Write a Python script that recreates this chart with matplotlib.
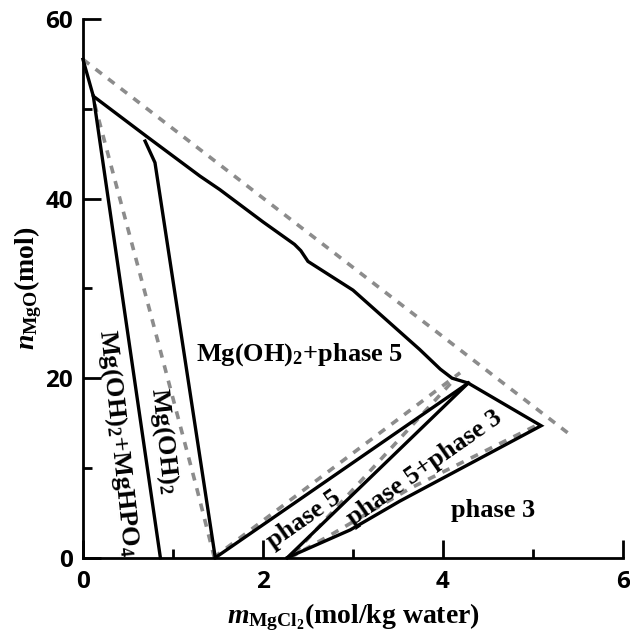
import matplotlib
matplotlib.use("Agg")
import matplotlib.pyplot as plt
from matplotlib.ticker import MultipleLocator

plt.rcParams['mathtext.fontset'] = 'custom'
plt.rcParams['mathtext.rm'] = 'Liberation Serif:bold'
plt.rcParams['mathtext.bf'] = 'Liberation Serif:bold'
plt.rcParams['mathtext.it'] = 'Liberation Serif:bold:italic'

# ---- data ----
# solid model boundaries
upper_x = [0.0, 0.115, 0.71, 1.3, 1.52, 2.0, 2.35, 2.42, 2.5, 3.0, 3.37, 3.74, 3.97, 4.1, 4.28]
upper_y = [55.5, 51.4, 46.9, 42.5, 41.0, 37.4, 34.9, 34.2, 33.0, 29.8, 26.5, 23.2, 21.0, 20.0, 19.45]
left_x = [0.115, 0.86]
left_y = [51.4, 0.0]
mgoh_x = [0.69, 0.80, 1.47]
mgoh_y = [46.4, 44.0, 0.0]
p5_upper_x = [1.47, 4.28]
p5_upper_y = [0.0, 19.45]
p5_lower_x = [2.27, 4.28]
p5_lower_y = [0.0, 19.45]
p3_x = [2.27, 2.97, 3.52, 5.09, 4.28]
p3_y = [0.0, 3.1, 6.3, 14.7, 19.45]

# dashed (grey) boundaries
d_top_x = [0.0, 5.4]
d_top_y = [55.5, 13.8]
d_mgoh_x = [0.13, 0.74, 1.26, 1.46]
d_mgoh_y = [50.5, 27.6, 7.9, 0.0]
d_p5a_x = [1.45, 4.19]
d_p5a_y = [0.0, 20.6]
d_p5b_x = [2.35, 4.12]
d_p5b_y = [0.5, 19.8]
d_p3_x = [2.30, 2.78, 3.63, 5.05]
d_p3_y = [0.0, 2.7, 7.7, 14.8]

x_ticks = [0, 2, 4, 6]
y_ticks = [0, 20, 40, 60]

fig = plt.figure(figsize=(6.3, 6.35), dpi=100)
ax = fig.add_axes([0.1317, 0.1217, 0.8572, 0.8484])

dash_kw = dict(color='#8c8c8c', lw=2.6, linestyle=(0, (2.2, 2.2)), solid_capstyle='butt')
for xs, ys in [(d_top_x, d_top_y), (d_mgoh_x, d_mgoh_y), (d_p5a_x, d_p5a_y),
               (d_p5b_x, d_p5b_y), (d_p3_x, d_p3_y)]:
    ax.plot(xs, ys, clip_on=False, **dash_kw)

solid_kw = dict(color='black', lw=2.4, solid_joinstyle='miter')
for xs, ys in [(upper_x, upper_y), (left_x, left_y), (mgoh_x, mgoh_y),
               (p5_upper_x, p5_upper_y), (p5_lower_x, p5_lower_y), (p3_x, p3_y)]:
    ax.plot(xs, ys, clip_on=False, **solid_kw)

ax.set_xlim(0, 6)
ax.set_ylim(0, 60)
ax.set_xticks(x_ticks)
ax.set_yticks(y_ticks)
ax.xaxis.set_minor_locator(MultipleLocator(1))
ax.yaxis.set_minor_locator(MultipleLocator(10))
for s in ['top', 'right']:
    ax.spines[s].set_visible(False)
for s in ['left', 'bottom']:
    ax.spines[s].set_linewidth(2.0)
ax.tick_params(which='major', direction='in', length=13, width=2.0)
ax.tick_params(which='minor', direction='in', length=6.5, width=2.0)
ax.tick_params(axis='y', which='major', pad=7)
ax.tick_params(axis='x', which='major', pad=9)
ax.set_xticklabels([str(v) for v in x_ticks], fontfamily='Open Sans',
                   fontweight='bold', fontsize=17.5)
ax.set_yticklabels([str(v) for v in y_ticks], fontfamily='Open Sans',
                   fontweight='bold', fontsize=17.5)

ax.set_xlabel(r'$m_{\mathrm{MgCl_2}}$(mol/kg water)', fontfamily='Liberation Serif',
              fontweight='bold', fontsize=20)
ax.xaxis.set_label_coords(0.5, -0.081)
ax.set_ylabel(r'$n_{\mathrm{MgO}}$(mol)', fontfamily='Liberation Serif',
              fontweight='bold', fontsize=20)
ax.yaxis.set_label_coords(-0.072, 0.5)

tkw = dict(fontfamily='Liberation Serif', fontweight='bold', fontsize=19,
           ha='center', va='center', rotation_mode='anchor')
ax.text(2.41, 22.6, r'Mg(OH)$_2$+phase 5', **tkw)
ax.text(0.39, 12.8, r'Mg(OH)$_2$+MgHPO$_4$', rotation=-84, **tkw)
ax.text(0.90, 13.0, r'Mg(OH)$_2$', rotation=-84, **tkw)
ax.text(2.45, 4.3, 'phase 5', rotation=35, **tkw)
ax.text(3.80, 10.0, 'phase 5+phase 3', rotation=35, **tkw)
ax.text(4.56, 5.3, 'phase 3', **tkw)

fig.savefig('out.png', dpi=100)
